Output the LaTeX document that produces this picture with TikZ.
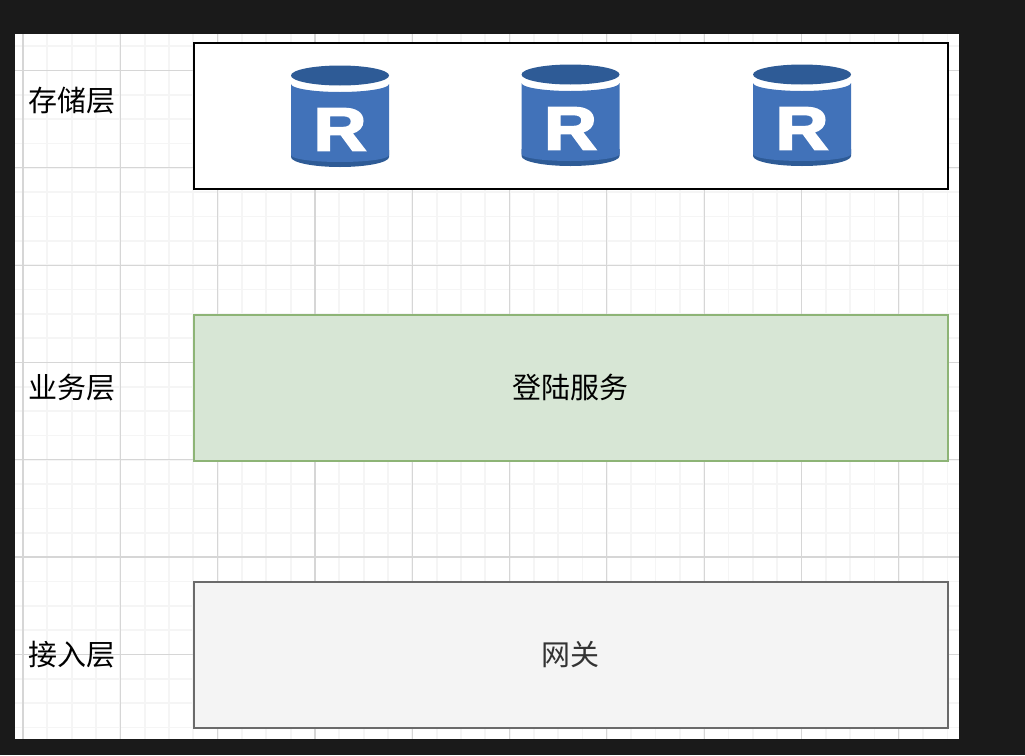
\documentclass[tikz,border=0pt]{standalone}
\usepackage{fontspec}
\setmainfont{Noto Sans CJK SC}
\newfontfamily\letterfont[FakeBold=3]{Liberation Sans Bold}
\definecolor{darkbg}{HTML}{1A1A1A}
\definecolor{gridmajor}{HTML}{D6D6D6}
\definecolor{gridminor}{HTML}{F5F5F5}
\definecolor{dbblue}{HTML}{4172B9}
\definecolor{dbdark}{HTML}{2E5B96}
\definecolor{greenfill}{HTML}{D7E6D5}
\definecolor{greenline}{HTML}{8DB476}
\definecolor{greyfill}{HTML}{F4F4F4}
\definecolor{greyline}{HTML}{6A6A6A}
\tikzset{
  layerbox/.style={draw,line width=2pt,minimum width=754pt,minimum height=146pt,inner sep=0pt},
  layerlabel/.style={font=\fontsize{29}{34}\selectfont,text=black,inner sep=0pt},
  boxtext/.style={font=\fontsize{29}{34}\selectfont,inner sep=0pt},
}
% curve from left to right side of an icon, sagging by #2 below height #1
\newcommand{\sagcurve}[2]{.. controls (-49,{#1+0.55*#2}) and (-27,{#1+#2}) .. (0,{#1+#2}) .. controls (27,{#1+#2}) and (49,{#1+0.55*#2}) .. (49,#1)}
\begin{document}
\begin{tikzpicture}[x=1pt,y=-1pt]
\useasboundingbox (0,0) rectangle (1025,755);
\fill[darkbg] (0,0) rectangle (1025,755);
\fill[white] (15,34) rectangle (959,739);

% grid
\begin{scope}
\clip (15,34) rectangle (959,739);
\foreach \i in {-1,...,39} {
  \path[draw=gridminor,line width=1.8pt] ({23+24.33*\i},34) -- ({23+24.33*\i},739);
  \path[draw=gridminor,line width=1.8pt] (15,{70.5+24.33*\i}) -- (959,{70.5+24.33*\i});
}
\foreach \i in {0,...,9} {
  \path[draw=gridmajor,line width=1.2pt] ({23+97.3*\i},34) -- ({23+97.3*\i},739);
}
\foreach \i in {0,...,6} {
  \path[draw=gridmajor,line width=1.2pt] (15,{70.5+97.3*\i}) -- (959,{70.5+97.3*\i});
}
\end{scope}

% layers
\node[layerbox,draw=black,fill=white] (store) at (571,116) {};
\node[layerbox,draw=greenline,fill=greenfill] (login) at (571,388) {};
\node[layerbox,draw=greyline,fill=greyfill] (gateway) at (571,655) {};

\node[boxtext,text=black] (logintext) at (570,387) {登陆服务};
\node[boxtext,text=black!80] (gatewaytext) at (570,654.5) {网关};

\node[layerlabel] (storelabel) at (72,100.7) {存储层};
\node[layerlabel] (loginlabel) at (72,387.7) {业务层};
\node[layerlabel] (gatewaylabel) at (72,654.7) {接入层};

% database icons
\foreach \x/\y/\name in {340/0/dba,570.5/-1/dbb,802/-1/dbc} {
\begin{scope}[shift={(\x,\y)}]
  \fill[dbdark] (-49,150) -- (-49,157) \sagcurve{157}{10} -- (49,150) -- cycle;
  \fill[dbblue] (-49,84) \sagcurve{84}{8} -- (49,155) .. controls (49,159) and (27,162) .. (0,162) .. controls (-27,162) and (-49,159) .. (-49,155) -- cycle;
  \fill[dbdark] (0,75.5) ellipse[x radius=49,y radius=10];
  \node[font=\letterfont\fontsize{61}{61}\selectfont,text=white,xscale=1.2,inner sep=0pt,anchor=base] (\name) at (0,150.5) {R};
\end{scope}
}
\end{tikzpicture}
\end{document}
